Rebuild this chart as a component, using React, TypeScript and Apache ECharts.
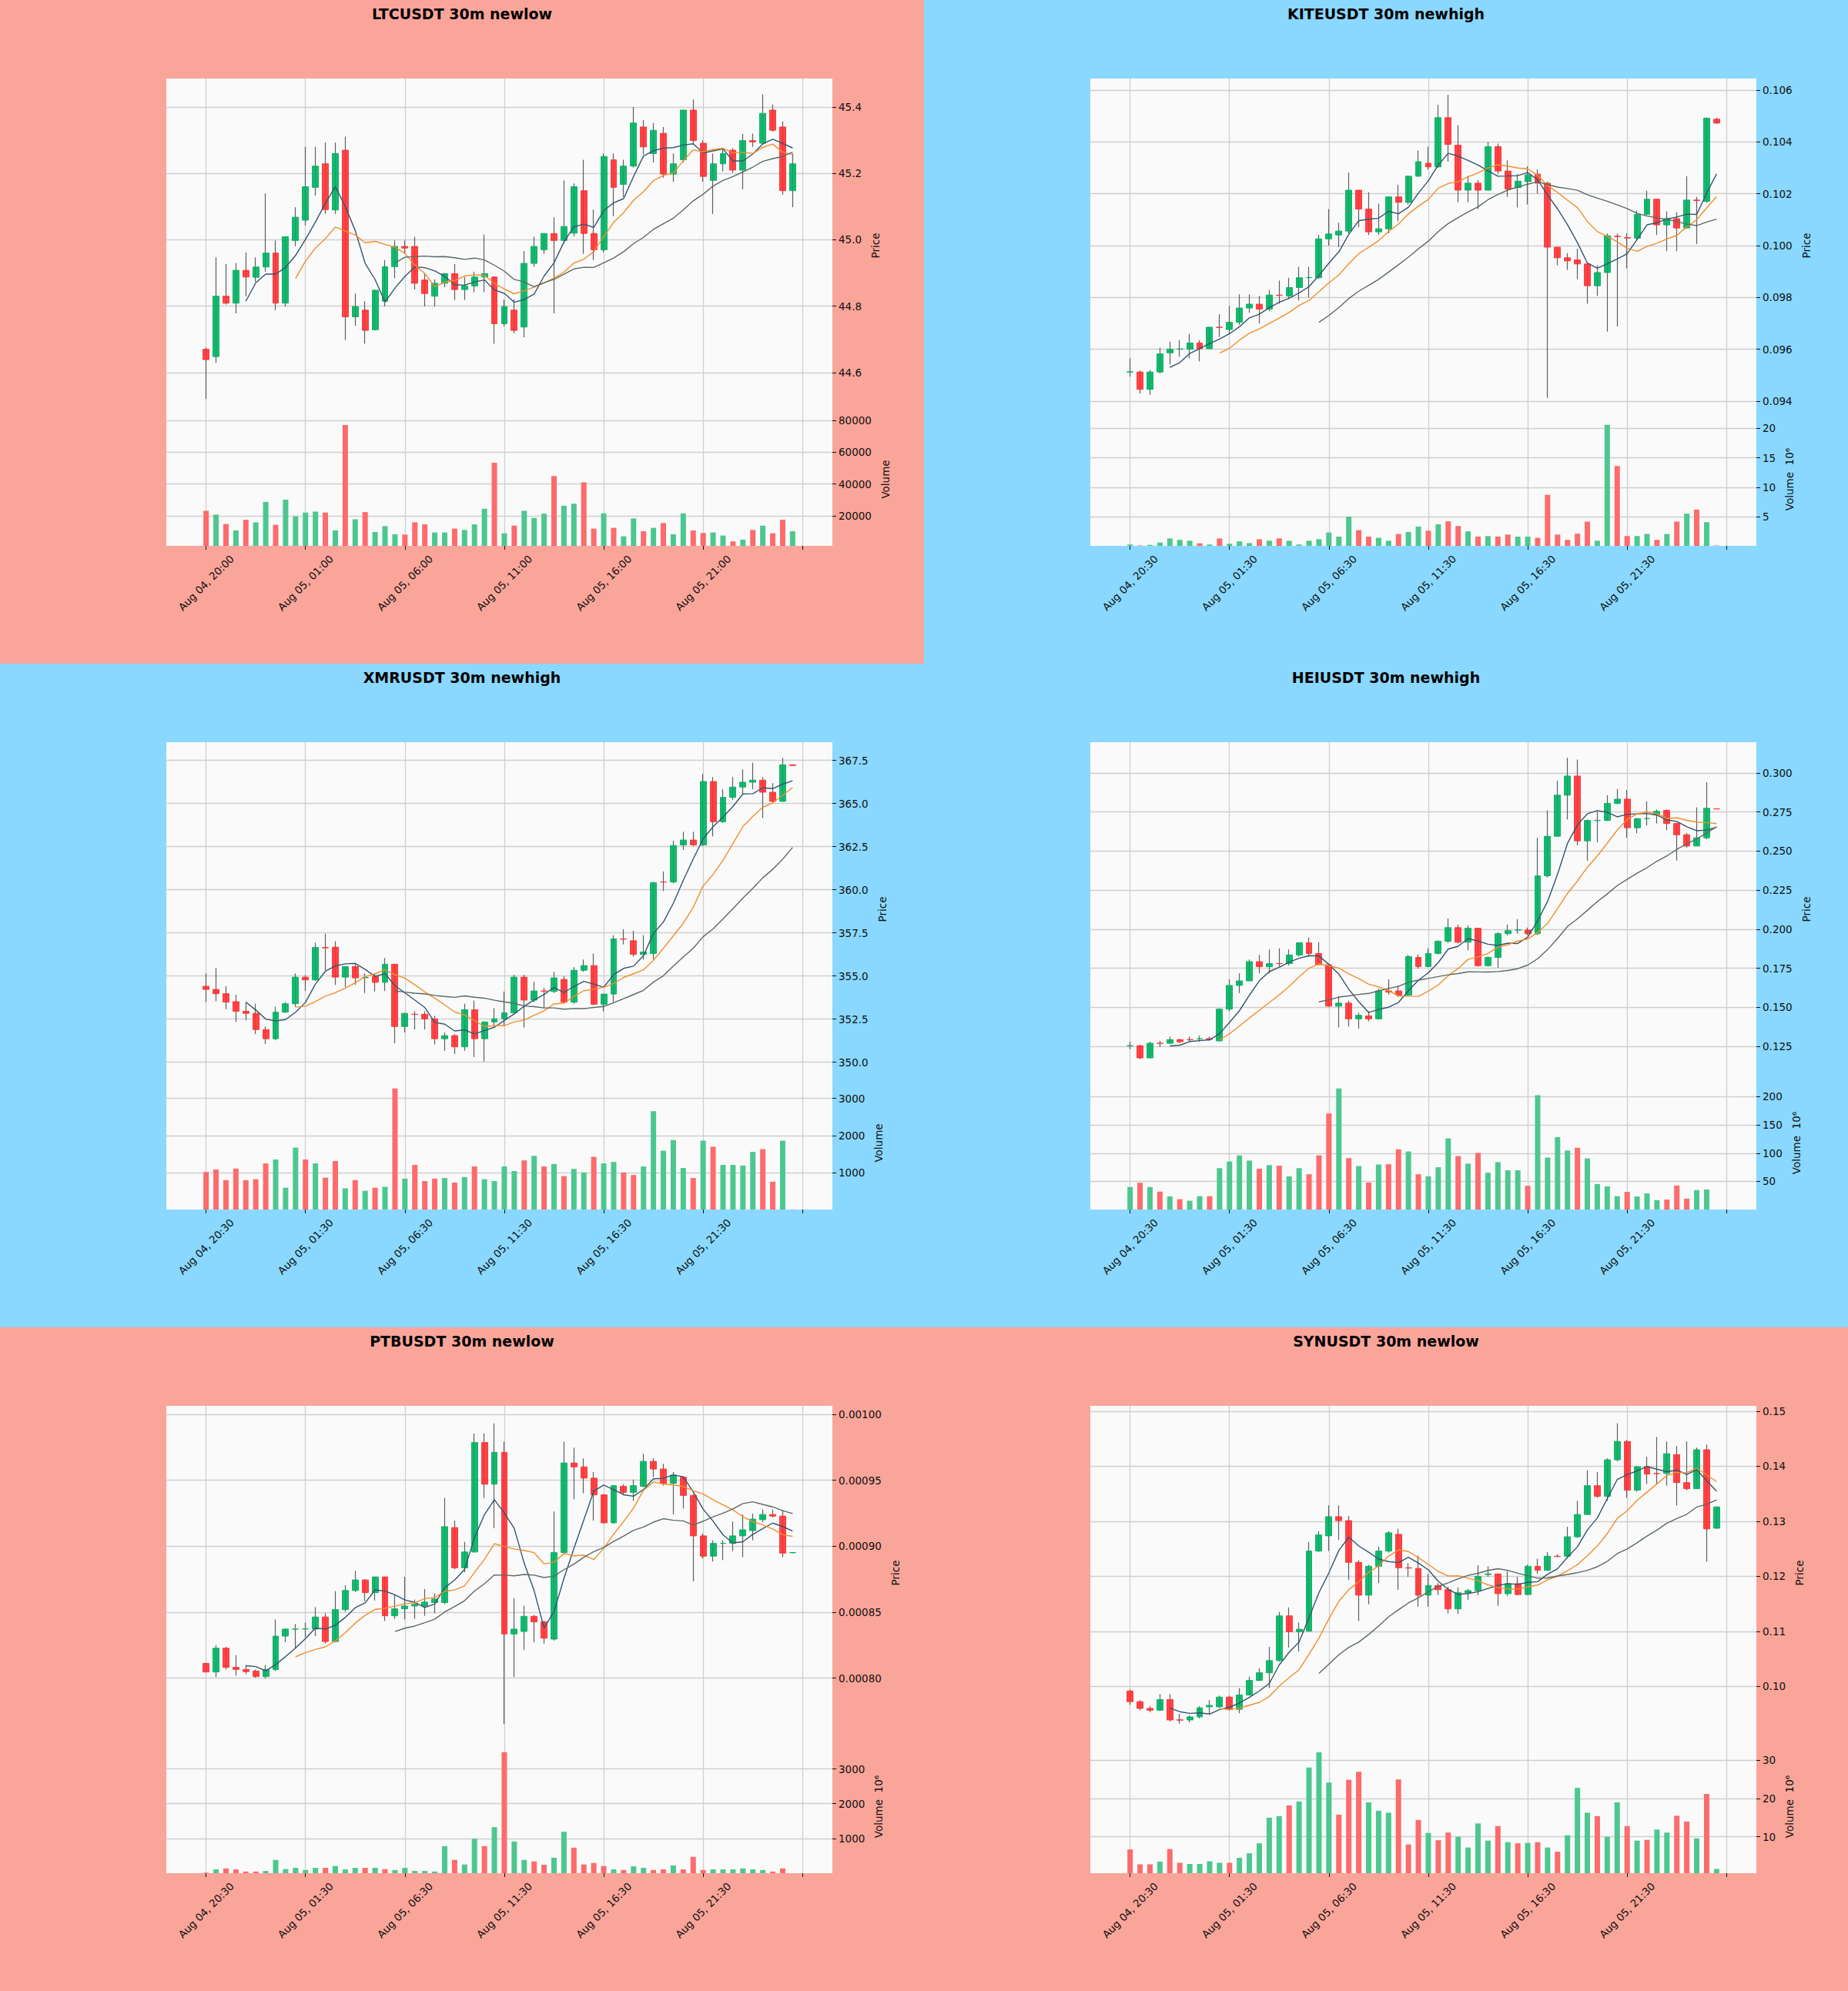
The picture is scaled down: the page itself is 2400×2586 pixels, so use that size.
import React, { useEffect, useRef } from 'react';
import * as echarts from 'echarts';

// ---------- colours ----------
const BG_LOW = '#f9a59a';
const BG_HIGH = '#8ad8ff';
const UP = '#00b060';
const DOWN = '#fe3032';
const VOL_UP = '#4dc790';
const VOL_DOWN = '#fd6b6c';
const WICK = '#606060';
const MA_COLORS = ['#34546e', '#f28e2b', '#5a6a62'];
const MA_WINDOWS = [5, 10, 20];

// ---------- tick labels ----------
const X_LABELS_00 = ['Aug 04, 20:00', 'Aug 05, 01:00', 'Aug 05, 06:00', 'Aug 05, 11:00', 'Aug 05, 16:00', 'Aug 05, 21:00'];
const X_LABELS_30 = ['Aug 04, 20:30', 'Aug 05, 01:30', 'Aug 05, 06:30', 'Aug 05, 11:30', 'Aug 05, 16:30', 'Aug 05, 21:30'];

// ---------- LTCUSDT : [open, high, low, close] ----------
const LTC_OHLC = [
  [44.670, 44.675, 44.520, 44.639], [44.648, 44.947, 44.629, 44.830], [44.830, 44.927, 44.805, 44.809], [44.809, 44.930, 44.778, 44.908],
  [44.908, 44.962, 44.830, 44.888], [44.887, 44.947, 44.873, 44.918], [44.918, 45.140, 44.904, 44.960], [44.960, 44.998, 44.788, 44.809],
  [44.809, 45.010, 44.799, 45.009], [44.998, 45.098, 44.981, 45.068], [45.059, 45.280, 45.043, 45.160], [45.158, 45.280, 45.133, 45.222],
  [45.229, 45.293, 45.078, 45.091], [45.090, 45.293, 45.078, 45.260], [45.270, 45.311, 44.698, 44.768], [44.768, 44.838, 44.741, 44.799],
  [44.788, 44.815, 44.687, 44.727], [44.729, 44.850, 44.727, 44.848], [44.815, 44.939, 44.799, 44.919], [44.919, 44.998, 44.884, 44.980],
  [44.980, 44.998, 44.960, 44.975], [44.980, 45.009, 44.850, 44.869], [44.879, 44.900, 44.799, 44.838], [44.830, 44.880, 44.799, 44.869],
  [44.869, 44.900, 44.857, 44.898], [44.898, 44.927, 44.819, 44.850], [44.850, 44.888, 44.819, 44.861], [44.861, 44.904, 44.842, 44.888],
  [44.888, 45.016, 44.842, 44.898], [44.888, 44.890, 44.687, 44.747], [44.747, 44.820, 44.740, 44.799], [44.788, 44.820, 44.718, 44.727],
  [44.737, 44.966, 44.706, 44.929], [44.929, 45.009, 44.919, 44.980], [44.970, 45.020, 44.958, 45.019], [45.019, 45.068, 44.778, 44.998],
  [44.998, 45.179, 44.989, 45.040], [45.020, 45.170, 45.010, 45.160], [45.148, 45.241, 44.958, 45.019], [45.019, 45.091, 44.939, 44.970],
  [44.970, 45.260, 44.962, 45.251], [45.241, 45.260, 45.071, 45.158], [45.167, 45.241, 45.129, 45.222], [45.222, 45.400, 45.218, 45.352],
  [45.340, 45.361, 45.257, 45.280], [45.260, 45.352, 45.233, 45.330], [45.321, 45.340, 45.187, 45.198], [45.198, 45.260, 45.175, 45.229],
  [45.241, 45.391, 45.233, 45.391], [45.391, 45.423, 45.291, 45.299], [45.291, 45.299, 45.175, 45.191], [45.179, 45.260, 45.078, 45.229],
  [45.229, 45.276, 45.206, 45.260], [45.270, 45.276, 45.202, 45.210], [45.210, 45.319, 45.152, 45.299], [45.299, 45.320, 45.280, 45.295],
  [45.291, 45.439, 45.288, 45.381], [45.391, 45.408, 45.326, 45.330], [45.340, 45.357, 45.136, 45.148], [45.148, 45.260, 45.098, 45.229],
];
const LTC_VOL = [
  23200, 20800, 14900, 10900, 17600, 16000, 28800, 14400, 30200, 19700,
  22100, 22700, 22100, 10900, 77100, 17900, 22400, 9900, 13600, 8500,
  8300, 16000, 14700, 9600, 9600, 12000, 11200, 14700, 24500, 53400,
  9100, 13900, 23200, 18700, 21400, 45000, 26400, 27700, 41100, 12000,
  21600, 12500, 7200, 18400, 10400, 12500, 15500, 8500, 21600, 10900,
  9300, 9600, 7700, 4000, 5100, 11200, 13900, 9100, 17600, 10400,
];
const LTC_YLIM = [44.479, 45.486];
const LTC_PRICE_TICKS = [44.6, 44.8, 45.0, 45.2, 45.4];
const LTC_VOL_TICKS = [20000, 40000, 60000, 80000];

// ---------- KITEUSDT ----------
const KITE_OHLC = [
  [0.09512, 0.09565, 0.09494, 0.09513], [0.09512, 0.09518, 0.09429, 0.09445], [0.09445, 0.09520, 0.09424, 0.09512], [0.09512, 0.09606, 0.09506, 0.09582],
  [0.09586, 0.09629, 0.09541, 0.09600], [0.09600, 0.09635, 0.09571, 0.09601], [0.09600, 0.09659, 0.09565, 0.09624], [0.09624, 0.09635, 0.09553, 0.09602],
  [0.09602, 0.09686, 0.09600, 0.09685], [0.09685, 0.09735, 0.09647, 0.09684], [0.09676, 0.09767, 0.09659, 0.09704], [0.09704, 0.09812, 0.09694, 0.09759],
  [0.09759, 0.09812, 0.09741, 0.09774], [0.09774, 0.09806, 0.09700, 0.09755], [0.09755, 0.09829, 0.09747, 0.09809], [0.09809, 0.09865, 0.09776, 0.09808],
  [0.09806, 0.09876, 0.09794, 0.09838], [0.09838, 0.09918, 0.09788, 0.09876], [0.09876, 0.09918, 0.09800, 0.09877], [0.09876, 0.10041, 0.09871, 0.10026],
  [0.10026, 0.10141, 0.10000, 0.10045], [0.10041, 0.10088, 0.09994, 0.10056], [0.10056, 0.10282, 0.10047, 0.10214], [0.10214, 0.10215, 0.10071, 0.10141],
  [0.10141, 0.10206, 0.10041, 0.10053], [0.10053, 0.10162, 0.10041, 0.10065], [0.10065, 0.10189, 0.10047, 0.10188], [0.10188, 0.10235, 0.10094, 0.10167],
  [0.10167, 0.10270, 0.10159, 0.10268], [0.10268, 0.10367, 0.10266, 0.10324], [0.10318, 0.10382, 0.10294, 0.10304], [0.10304, 0.10544, 0.10300, 0.10494],
  [0.10494, 0.10582, 0.10324, 0.10391], [0.10388, 0.10465, 0.10167, 0.10214], [0.10214, 0.10270, 0.10167, 0.10241], [0.10241, 0.10253, 0.10141, 0.10214],
  [0.10214, 0.10400, 0.10213, 0.10382], [0.10382, 0.10394, 0.10276, 0.10288], [0.10288, 0.10329, 0.10188, 0.10218], [0.10224, 0.10276, 0.10147, 0.10249],
  [0.10247, 0.10306, 0.10159, 0.10273], [0.10276, 0.10294, 0.10200, 0.10241], [0.10241, 0.10247, 0.09412, 0.09994], [0.09994, 0.09995, 0.09924, 0.09953],
  [0.09953, 0.09971, 0.09906, 0.09941], [0.09945, 0.09988, 0.09871, 0.09929], [0.09929, 0.09935, 0.09776, 0.09845], [0.09845, 0.09924, 0.09806, 0.09896],
  [0.09896, 0.10047, 0.09668, 0.10038], [0.10036, 0.10047, 0.09688, 0.10035], [0.10031, 0.10047, 0.09912, 0.10029], [0.10029, 0.10135, 0.10024, 0.10120],
  [0.10120, 0.10212, 0.10118, 0.10179], [0.10179, 0.10180, 0.10041, 0.10080], [0.10080, 0.10132, 0.09979, 0.10104], [0.10104, 0.10129, 0.09979, 0.10068],
  [0.10068, 0.10268, 0.10065, 0.10176], [0.10176, 0.10188, 0.10006, 0.10174], [0.10171, 0.10494, 0.10165, 0.10492], [0.10488, 0.10494, 0.10471, 0.10473],
];
const KITE_VOL = [
  0.26, 0.1, 0.2, 0.6, 1.3, 1.05, 0.9, 0.47, 0.26, 1.3,
  0.4, 0.8, 0.5, 1.15, 0.9, 1.3, 0.9, 0.26, 0.9, 1.15,
  2.3, 1.6, 5.0, 2.7, 1.6, 1.4, 0.9, 2.05, 2.4, 3.3,
  2.6, 3.7, 4.2, 3.4, 2.5, 1.6, 1.7, 1.6, 1.95, 1.6,
  1.6, 1.4, 8.7, 1.95, 1.05, 2.1, 4.15, 0.9, 20.6, 13.6,
  1.7, 1.7, 2.05, 1.05, 2.05, 4.15, 5.5, 6.2, 4.05, 0.1,
];
const KITE_YLIM = [0.09355, 0.10645];
const KITE_PRICE_TICKS = [0.094, 0.096, 0.098, 0.100, 0.102, 0.104, 0.106];
const KITE_VOL_TICKS = [5, 10, 15, 20];

// ---------- XMRUSDT ----------
const XMR_OHLC = [
  [354.40, 355.15, 353.48, 354.22], [354.22, 355.47, 353.53, 353.97], [353.97, 354.41, 353.07, 353.48], [353.51, 353.92, 352.33, 352.95],
  [352.95, 353.48, 352.42, 352.83], [352.83, 353.39, 351.63, 351.89], [351.89, 352.07, 351.06, 351.36], [351.36, 353.21, 351.27, 352.90],
  [352.90, 353.48, 352.86, 353.39], [353.39, 355.15, 353.21, 354.93], [354.93, 355.05, 354.13, 354.77], [354.77, 356.92, 354.71, 356.65],
  [356.65, 357.45, 355.33, 356.63], [356.67, 357.01, 354.48, 354.93], [354.93, 355.56, 354.36, 355.54], [355.54, 355.68, 354.48, 354.89],
  [354.90, 355.15, 354.01, 354.91], [354.98, 355.15, 354.10, 354.63], [354.63, 356.04, 354.13, 355.68], [355.68, 355.70, 351.10, 352.07],
  [352.07, 352.86, 351.72, 352.83], [352.78, 352.95, 351.89, 352.77], [352.78, 352.95, 351.89, 352.51], [352.51, 352.69, 351.03, 351.36],
  [351.36, 351.72, 350.66, 351.54], [351.54, 351.63, 350.48, 350.89], [350.89, 353.39, 350.66, 353.04], [353.04, 353.57, 350.30, 351.36],
  [351.36, 352.37, 350.04, 352.33], [352.33, 353.13, 352.07, 352.51], [352.51, 354.10, 352.07, 352.86], [352.86, 355.07, 352.83, 354.93],
  [354.93, 355.07, 352.01, 353.60], [353.60, 354.66, 353.48, 354.13], [354.13, 354.31, 353.13, 354.12], [354.10, 355.24, 354.01, 354.89],
  [354.80, 354.98, 353.43, 353.48], [353.48, 355.51, 353.39, 355.33], [355.33, 355.95, 355.24, 355.60], [355.60, 356.30, 353.30, 353.36],
  [353.36, 353.96, 352.95, 353.95], [353.95, 357.36, 353.48, 357.15], [357.15, 357.71, 356.83, 357.13], [357.04, 357.62, 356.12, 356.25],
  [356.25, 357.36, 355.95, 356.39], [356.30, 360.45, 355.95, 360.41], [360.45, 361.06, 359.92, 360.44], [360.45, 362.83, 360.36, 362.56],
  [362.59, 363.36, 362.30, 362.88], [362.88, 363.36, 362.53, 362.60], [362.60, 366.71, 362.53, 366.27], [366.27, 366.53, 363.09, 363.94],
  [363.94, 365.82, 363.88, 365.35], [365.35, 366.53, 365.21, 365.95], [365.95, 366.97, 365.56, 366.23], [366.23, 367.36, 365.82, 366.35],
  [366.35, 366.53, 364.15, 365.65], [365.65, 366.18, 365.03, 365.12], [365.12, 367.64, 365.10, 367.24], [367.24, 367.25, 367.18, 367.20],
];
const XMR_VOL = [
  1016, 1082, 795, 1107, 795, 820, 1246, 1352, 590, 1672,
  1352, 1246, 861, 1311, 574, 795, 508, 590, 615, 3270,
  836, 1205, 770, 836, 852, 730, 877, 1164, 820, 770,
  1164, 1041, 1328, 1451, 1164, 1230, 902, 1098, 1000, 1426,
  1246, 1287, 1000, 934, 1164, 2656, 1590, 1877, 1123, 852,
  1861, 1697, 1205, 1205, 1189, 1557, 1631, 754, 1861, 5,
];
const XMR_YLIM = [349.18, 368.55];
const XMR_PRICE_TICKS = [350.0, 352.5, 355.0, 357.5, 360.0, 362.5, 365.0, 367.5];
const XMR_VOL_TICKS = [1000, 2000, 3000];

// ---------- HEIUSDT ----------
const HEI_OHLC = [
  [0.12535, 0.12794, 0.12307, 0.12541], [0.12541, 0.12600, 0.11683, 0.11761], [0.11761, 0.12794, 0.11722, 0.12697], [0.12697, 0.12853, 0.12463, 0.12690],
  [0.12697, 0.13126, 0.12658, 0.12931], [0.12931, 0.12990, 0.12697, 0.12794], [0.12931, 0.13126, 0.12794, 0.12930], [0.12970, 0.13185, 0.12794, 0.12990],
  [0.12990, 0.13126, 0.12853, 0.12950], [0.12853, 0.14938, 0.12794, 0.14879], [0.14879, 0.16789, 0.14743, 0.16399], [0.16399, 0.17178, 0.15912, 0.16691],
  [0.16691, 0.18055, 0.16691, 0.17919], [0.17919, 0.18348, 0.17178, 0.17607], [0.17607, 0.18698, 0.17178, 0.17802], [0.17802, 0.18776, 0.17607, 0.17795],
  [0.17802, 0.18698, 0.17665, 0.18348], [0.18348, 0.19130, 0.18250, 0.19127], [0.19127, 0.19478, 0.18250, 0.18445], [0.18445, 0.19166, 0.17720, 0.17724],
  [0.17724, 0.17763, 0.15035, 0.15074], [0.15074, 0.15717, 0.13710, 0.15269], [0.15269, 0.15425, 0.13768, 0.14256], [0.14256, 0.14646, 0.13632, 0.14489],
  [0.14450, 0.14743, 0.14100, 0.14256], [0.14256, 0.16204, 0.14250, 0.16048], [0.16048, 0.16789, 0.15815, 0.15970], [0.16048, 0.16399, 0.15659, 0.15776],
  [0.15776, 0.18348, 0.15717, 0.18250], [0.18191, 0.18387, 0.17471, 0.17607], [0.17607, 0.18776, 0.17568, 0.18445], [0.18445, 0.19283, 0.18387, 0.19224],
  [0.19224, 0.20686, 0.19127, 0.20101], [0.20101, 0.20296, 0.19088, 0.19166], [0.19166, 0.20257, 0.18640, 0.20062], [0.20062, 0.20062, 0.17607, 0.17666],
  [0.17666, 0.18250, 0.17607, 0.18192], [0.18192, 0.19809, 0.17530, 0.19712], [0.19712, 0.20296, 0.19614, 0.19906], [0.19945, 0.20647, 0.19712, 0.19946],
  [0.19945, 0.20101, 0.19614, 0.19712], [0.19712, 0.25850, 0.19614, 0.23414], [0.23414, 0.27603, 0.23316, 0.25947], [0.25947, 0.29493, 0.25947, 0.28578],
  [0.28578, 0.30974, 0.27019, 0.29805], [0.29805, 0.30857, 0.25362, 0.25655], [0.25655, 0.27019, 0.24388, 0.26960], [0.26960, 0.27506, 0.25557, 0.26961],
  [0.26960, 0.28578, 0.26921, 0.28051], [0.28051, 0.28967, 0.27993, 0.28324], [0.28324, 0.28909, 0.25850, 0.26493], [0.26493, 0.27116, 0.26142, 0.27077],
  [0.27077, 0.28188, 0.26629, 0.27078], [0.27350, 0.27662, 0.26765, 0.27545], [0.27603, 0.27662, 0.26337, 0.26765], [0.26765, 0.26824, 0.24388, 0.26045],
  [0.26045, 0.26142, 0.25207, 0.25323], [0.25323, 0.27798, 0.25320, 0.25850], [0.25850, 0.29415, 0.25752, 0.27740], [0.27701, 0.27720, 0.27680, 0.27699],
];
const HEI_VOL = [
  39.9, 47.5, 39.9, 31.8, 23.2, 18.3, 15.6, 23.7, 23.7, 73.4,
  85.2, 96.0, 86.8, 72.3, 78.8, 77.7, 58.8, 73.4, 62.6, 96.0,
  170.4, 214.7, 91.2, 77.1, 48.0, 79.8, 80.4, 106.8, 103.0, 62.6,
  58.8, 75.0, 126.2, 94.9, 81.4, 100.3, 65.3, 84.1, 69.6, 69.6,
  42.1, 202.8, 92.2, 128.4, 104.6, 109.5, 90.6, 45.3, 41.0, 23.7,
  31.3, 23.2, 28.6, 16.7, 17.8, 42.6, 19.4, 34.5, 35.6, 0.1,
];
const HEI_YLIM = [0.1058, 0.3197];
const HEI_PRICE_TICKS = [0.125, 0.150, 0.175, 0.200, 0.225, 0.250, 0.275, 0.300];
const HEI_VOL_TICKS = [50, 100, 150, 200];

// ---------- PTBUSDT ----------
const PTB_OHLC = [
  [0.0008111, 0.0008115, 0.0008042, 0.0008046], [0.0008046, 0.0008249, 0.0008007, 0.0008226], [0.0008226, 0.0008237, 0.0008065, 0.0008081], [0.0008081, 0.0008173, 0.0008018, 0.0008065],
  [0.0008065, 0.0008099, 0.0008030, 0.0008049], [0.0008053, 0.0008065, 0.0008002, 0.0008012], [0.0008012, 0.0008099, 0.0007996, 0.0008065], [0.0008065, 0.0008445, 0.0008053, 0.0008318],
  [0.0008318, 0.0008376, 0.0008272, 0.0008371], [0.0008371, 0.0008410, 0.0008226, 0.0008372], [0.0008372, 0.0008420, 0.0008310, 0.0008373], [0.0008371, 0.0008537, 0.0008318, 0.0008463],
  [0.0008463, 0.0008491, 0.0008261, 0.0008277], [0.0008277, 0.0008659, 0.0008272, 0.0008519], [0.0008519, 0.0008703, 0.0008502, 0.0008664], [0.0008664, 0.0008813, 0.0008652, 0.0008744],
  [0.0008744, 0.0008749, 0.0008583, 0.0008648], [0.0008648, 0.0008768, 0.0008588, 0.0008767], [0.0008767, 0.0008768, 0.0008433, 0.0008472], [0.0008472, 0.0008634, 0.0008449, 0.0008525],
  [0.0008525, 0.0008767, 0.0008445, 0.0008546], [0.0008546, 0.0008595, 0.0008449, 0.0008558], [0.0008546, 0.0008675, 0.0008472, 0.0008576], [0.0008572, 0.0008641, 0.0008491, 0.0008599],
  [0.0008572, 0.0009366, 0.0008560, 0.0009148], [0.0009141, 0.0009194, 0.0008825, 0.0008836], [0.0008836, 0.0009032, 0.0008802, 0.0008956], [0.0008956, 0.0009855, 0.0008952, 0.0009786],
  [0.0009786, 0.0009855, 0.0009366, 0.0009470], [0.0009470, 0.0009931, 0.0009136, 0.0009712], [0.0009712, 0.0009793, 0.0007650, 0.0008334], [0.0008334, 0.0008606, 0.0008007, 0.0008371],
  [0.0008353, 0.0008548, 0.0008214, 0.0008468], [0.0008468, 0.0008479, 0.0008272, 0.0008426], [0.0008426, 0.0008433, 0.0008261, 0.0008302], [0.0008295, 0.0009263, 0.0008284, 0.0008952],
  [0.0008952, 0.0009793, 0.0008940, 0.0009631], [0.0009631, 0.0009747, 0.0009355, 0.0009601], [0.0009601, 0.0009666, 0.0009401, 0.0009516], [0.0009516, 0.0009562, 0.0009194, 0.0009389],
  [0.0009389, 0.0009394, 0.0009171, 0.0009177], [0.0009177, 0.0009460, 0.0009171, 0.0009459], [0.0009454, 0.0009470, 0.0009389, 0.0009408], [0.0009408, 0.0009505, 0.0009343, 0.0009459],
  [0.0009454, 0.0009700, 0.0009447, 0.0009643], [0.0009643, 0.0009666, 0.0009523, 0.0009585], [0.0009585, 0.0009624, 0.0009459, 0.0009477], [0.0009477, 0.0009562, 0.0009240, 0.0009539],
  [0.0009523, 0.0009532, 0.0009286, 0.0009385], [0.0009385, 0.0009394, 0.0008733, 0.0009078], [0.0009078, 0.0009095, 0.0008906, 0.0008924], [0.0008924, 0.0009044, 0.0008883, 0.0009021],
  [0.0009021, 0.0009044, 0.0008894, 0.0009022], [0.0009021, 0.0009187, 0.0008963, 0.0009078], [0.0009078, 0.0009240, 0.0008917, 0.0009124], [0.0009118, 0.0009247, 0.0009044, 0.0009205],
  [0.0009201, 0.0009279, 0.0009182, 0.0009240], [0.0009240, 0.0009279, 0.0009217, 0.0009228], [0.0009228, 0.0009274, 0.0008917, 0.0008947], [0.0008950, 0.0008955, 0.0008945, 0.0008952],
];
const PTB_VOL = [
  15, 110, 137, 110, 48, 48, 66, 383, 119, 154,
  93, 154, 154, 207, 110, 154, 154, 154, 119, 93,
  154, 66, 66, 48, 780, 383, 251, 991, 780, 1326,
  3485, 912, 383, 339, 242, 445, 1194, 736, 251, 295,
  207, 110, 93, 198, 154, 93, 110, 225, 110, 471,
  93, 110, 110, 110, 137, 110, 93, 48, 137, 1,
];
const PTB_YLIM = [0.000753, 0.0010064];
const PTB_PRICE_TICKS = [0.0008, 0.00085, 0.0009, 0.00095, 0.001];
const PTB_VOL_TICKS = [1000, 2000, 3000];

// ---------- SYNUSDT ----------
const SYN_OHLC = [
  [0.09917, 0.09945, 0.09669, 0.09724], [0.09724, 0.09751, 0.09569, 0.09602], [0.09602, 0.09641, 0.09530, 0.09569], [0.09569, 0.09862, 0.09558, 0.09762],
  [0.09762, 0.09862, 0.09365, 0.09392], [0.09395, 0.09503, 0.09326, 0.09388], [0.09392, 0.09475, 0.09348, 0.09448], [0.09448, 0.09641, 0.09420, 0.09613],
  [0.09630, 0.09751, 0.09503, 0.09657], [0.09630, 0.09834, 0.09613, 0.09807], [0.09807, 0.09834, 0.09558, 0.09586], [0.09586, 0.09972, 0.09514, 0.09845],
  [0.09845, 0.10177, 0.09834, 0.10110], [0.10110, 0.10331, 0.10099, 0.10249], [0.10249, 0.10718, 0.09972, 0.10470], [0.10470, 0.11354, 0.10453, 0.11282],
  [0.11282, 0.11436, 0.10707, 0.10994], [0.10994, 0.11160, 0.10635, 0.11039], [0.11006, 0.12624, 0.10994, 0.12459], [0.12459, 0.12818, 0.12442, 0.12751],
  [0.12735, 0.13287, 0.12459, 0.13083], [0.13083, 0.13287, 0.12663, 0.13011], [0.13011, 0.13094, 0.11934, 0.12254], [0.12254, 0.12293, 0.11188, 0.11657],
  [0.11657, 0.12210, 0.11492, 0.12182], [0.12182, 0.12541, 0.11878, 0.12459], [0.12459, 0.12818, 0.12431, 0.12790], [0.12762, 0.12862, 0.11757, 0.12155],
  [0.12155, 0.12238, 0.11989, 0.12150], [0.12144, 0.12376, 0.11448, 0.11657], [0.11657, 0.12044, 0.11448, 0.11834], [0.11834, 0.11878, 0.11657, 0.11757],
  [0.11757, 0.11812, 0.11326, 0.11409], [0.11409, 0.11796, 0.11315, 0.11702], [0.11702, 0.11768, 0.11575, 0.11740], [0.11740, 0.12199, 0.11657, 0.12000],
  [0.12033, 0.12182, 0.11989, 0.12045], [0.12044, 0.12045, 0.11464, 0.11685], [0.11685, 0.12099, 0.11646, 0.11867], [0.11867, 0.11989, 0.11657, 0.11669],
  [0.11669, 0.12210, 0.11657, 0.12182], [0.12182, 0.12320, 0.12044, 0.12110], [0.12110, 0.12442, 0.12099, 0.12365], [0.12365, 0.12403, 0.12348, 0.12360],
  [0.12365, 0.12901, 0.12348, 0.12718], [0.12718, 0.13370, 0.12696, 0.13122], [0.13122, 0.13923, 0.13122, 0.13646], [0.13646, 0.13895, 0.13425, 0.13453],
  [0.13453, 0.14144, 0.13370, 0.14116], [0.14116, 0.14779, 0.14088, 0.14448], [0.14448, 0.14475, 0.13425, 0.13564], [0.13564, 0.14006, 0.13536, 0.13989],
  [0.13989, 0.14171, 0.13674, 0.13856], [0.13867, 0.14530, 0.13674, 0.13866], [0.13867, 0.14448, 0.13646, 0.14227], [0.14210, 0.14365, 0.13287, 0.13702],
  [0.13702, 0.14448, 0.13564, 0.13591], [0.13591, 0.14337, 0.13589, 0.14298], [0.14298, 0.14392, 0.12265, 0.12862], [0.12873, 0.13270, 0.12862, 0.13260],
];
const SYN_VOL = [
  6.7, 2.8, 2.8, 3.5, 6.8, 3.2, 2.9, 2.9, 3.6, 3.2,
  3.2, 4.5, 5.7, 8.3, 15.0, 15.4, 18.2, 19.2, 28.1, 32.1,
  24.2, 15.8, 24.9, 27.0, 19.0, 16.8, 16.3, 25.0, 8.0, 14.4,
  11.0, 9.1, 11.1, 10.0, 7.2, 13.5, 9.0, 12.8, 8.6, 8.3,
  8.4, 8.6, 7.2, 6.1, 10.4, 22.8, 16.3, 15.4, 10.0, 19.0,
  12.8, 9.0, 9.2, 11.9, 11.1, 15.5, 14.0, 9.6, 21.2, 1.6,
];
const SYN_YLIM = [0.09028, 0.15095];
const SYN_PRICE_TICKS = [0.10, 0.11, 0.12, 0.13, 0.14, 0.15];
const SYN_VOL_TICKS = [10, 20, 30];

// ---------- panel definitions ----------
type Panel = {
  title: string; bg: string; ohlc: number[][]; vol: number[]; ylim: number[];
  priceTicks: number[]; priceDec: number; volTicks: number[]; volName: string;
  xLabels: string[]; priceGap: number; volGap: number;
};

const PANELS: Panel[] = [
  { title: 'LTCUSDT 30m newlow', bg: BG_LOW, ohlc: LTC_OHLC, vol: LTC_VOL, ylim: LTC_YLIM, priceTicks: LTC_PRICE_TICKS, priceDec: 1, volTicks: LTC_VOL_TICKS, volName: 'Volume', xLabels: X_LABELS_00, priceGap: 39, volGap: 49 },
  { title: 'KITEUSDT 30m newhigh', bg: BG_HIGH, ohlc: KITE_OHLC, vol: KITE_VOL, ylim: KITE_YLIM, priceTicks: KITE_PRICE_TICKS, priceDec: 3, volTicks: KITE_VOL_TICKS, volName: 'Volume  10⁶', xLabels: X_LABELS_30, priceGap: 46, volGap: 27 },
  { title: 'XMRUSDT 30m newhigh', bg: BG_HIGH, ohlc: XMR_OHLC, vol: XMR_VOL, ylim: XMR_YLIM, priceTicks: XMR_PRICE_TICKS, priceDec: 1, volTicks: XMR_VOL_TICKS, volName: 'Volume', xLabels: X_LABELS_30, priceGap: 46, volGap: 40 },
  { title: 'HEIUSDT 30m newhigh', bg: BG_HIGH, ohlc: HEI_OHLC, vol: HEI_VOL, ylim: HEI_YLIM, priceTicks: HEI_PRICE_TICKS, priceDec: 3, volTicks: HEI_VOL_TICKS, volName: 'Volume  10⁶', xLabels: X_LABELS_30, priceGap: 46, volGap: 33 },
  { title: 'PTBUSDT 30m newlow', bg: BG_LOW, ohlc: PTB_OHLC, vol: PTB_VOL, ylim: PTB_YLIM, priceTicks: PTB_PRICE_TICKS, priceDec: 5, volTicks: PTB_VOL_TICKS, volName: 'Volume  10⁶', xLabels: X_LABELS_30, priceGap: 64, volGap: 43 },
  { title: 'SYNUSDT 30m newlow', bg: BG_LOW, ohlc: SYN_OHLC, vol: SYN_VOL, ylim: SYN_YLIM, priceTicks: SYN_PRICE_TICKS, priceDec: 2, volTicks: SYN_VOL_TICKS, volName: 'Volume  10⁶', xLabels: X_LABELS_30, priceGap: 38, volGap: 27 },
];

// ---------- layout ----------
const CELL_W = 1200;
const CELL_H = 862;
const FONT = 'DejaVu Sans';
const PAD = 4;
const GRID_LEFT = 216;
const GRID_W = 865;
const PRICE_TOP = 102;
const PRICE_H = 434;
const VOL_H = 173;
const TXT = '#101010';

function buildOption(c: Panel): any {
  const n = c.ohlc.length;
  const cats = Array.from({ length: n + 2 * PAD }, (_, k) => String(k));
  const isGridIdx = (idx: number) => idx >= PAD && (idx - PAD) % 10 === 0;
  const isLabelIdx = (idx: number) => isGridIdx(idx) && (idx - PAD) / 10 < c.xLabels.length;

  const wick = c.ohlc.map((d, i) => [i + PAD, d[0], d[3], d[2], d[1]]);
  const body = c.ohlc.map((d, i) => [i + PAD, d[0], d[3], Math.min(d[0], d[3]), Math.max(d[0], d[3])]);
  const closes = c.ohlc.map((d) => d[3]);
  const ma = (w: number) => {
    const out: number[][] = [];
    for (let i = w - 1; i < n; i++) {
      let s = 0;
      for (let k = i - w + 1; k <= i; k++) s += closes[k];
      out.push([i + PAD, s / w]);
    }
    return out;
  };
  const vol = c.vol.map((v, i) => {
    const up = i === 0 ? closes[0] >= c.ohlc[0][0] : closes[i] >= closes[i - 1];
    return { value: [i + PAD, v], itemStyle: { color: up ? VOL_UP : VOL_DOWN } };
  });
  const vMin = 0.3 * Math.min(...c.vol);
  const vMax = 1.1 * Math.max(...c.vol);

  const axisText = { color: TXT, fontFamily: FONT, fontSize: 13.5 };
  const vSplit = { show: true, interval: (idx: number) => isGridIdx(idx), lineStyle: { color: '#d0d0d0', width: 1.3 } };
  const hSplit = { show: true, lineStyle: { color: '#d0d0d0', width: 1.3 } };

  const baseX = {
    type: 'category', data: cats, boundaryGap: false,
    axisLine: { show: false }, axisPointer: { show: false },
    splitLine: vSplit,
  };

  return {
    animation: false,
    backgroundColor: c.bg,
    title: {
      text: c.title, left: 'center', top: 8, padding: 0,
      textStyle: { fontFamily: FONT, fontSize: 19, fontWeight: 'bold', color: '#000' },
    },
    grid: [
      { left: GRID_LEFT, top: PRICE_TOP, width: GRID_W, height: PRICE_H, show: true, backgroundColor: '#fafafa', borderWidth: 0, containLabel: false, outerBoundsMode: 'none' },
      { left: GRID_LEFT, top: PRICE_TOP + PRICE_H, width: GRID_W, height: VOL_H, show: true, backgroundColor: '#fafafa', borderWidth: 0, containLabel: false, outerBoundsMode: 'none' },
    ],
    xAxis: [
      { ...baseX, gridIndex: 0, axisTick: { show: false }, axisLabel: { show: false } },
      {
        ...baseX, gridIndex: 1,
        axisTick: { show: true, interval: (idx: number) => isGridIdx(idx), length: 5, lineStyle: { color: TXT, width: 1 } },
        axisLabel: {
          show: true, interval: (idx: number) => isLabelIdx(idx),
          formatter: (v: string) => c.xLabels[(Number(v) - PAD) / 10] ?? '',
          rotate: 45, align: 'center', verticalAlign: 'middle', margin: 48, ...axisText,
        },
      },
    ],
    yAxis: [
      {
        type: 'value', gridIndex: 0, position: 'right', min: c.ylim[0], max: c.ylim[1],
        axisLine: { show: false },
        axisTick: { show: true, length: 5, customValues: c.priceTicks, lineStyle: { color: TXT, width: 1 } },
        axisLabel: { show: true, customValues: c.priceTicks, margin: 8, formatter: (v: number) => v.toFixed(c.priceDec), ...axisText },
        splitLine: hSplit,
        name: 'Price', nameLocation: 'middle', nameRotate: 90, nameGap: c.priceGap,
        nameTextStyle: { ...axisText },
      },
      {
        type: 'value', gridIndex: 1, position: 'right', min: vMin, max: vMax,
        axisLine: { show: false },
        axisTick: { show: true, length: 5, customValues: c.volTicks, lineStyle: { color: TXT, width: 1 } },
        axisLabel: { show: true, customValues: c.volTicks, margin: 8, formatter: (v: number) => String(v), ...axisText },
        splitLine: hSplit,
        name: c.volName, nameLocation: 'middle', nameRotate: 90, nameGap: c.volGap,
        nameTextStyle: { ...axisText },
      },
    ],
    series: [
      {
        type: 'candlestick', name: 'wick', xAxisIndex: 0, yAxisIndex: 0,
        encode: { x: 0, y: [1, 2, 3, 4] }, data: wick, barWidth: 1,
        itemStyle: { color: WICK, color0: WICK, borderColor: WICK, borderColor0: WICK, borderWidth: 1.2 },
        emphasis: { disabled: true }, z: 2,
      },
      {
        type: 'candlestick', name: 'body', xAxisIndex: 0, yAxisIndex: 0,
        encode: { x: 0, y: [1, 2, 3, 4] }, data: body, barWidth: 8.4,
        itemStyle: { color: UP, color0: DOWN, borderColor: UP, borderColor0: DOWN, borderWidth: 1, opacity: 0.9 },
        emphasis: { disabled: true }, z: 3,
      },
      ...MA_WINDOWS.map((w, k) => ({
        type: 'line', name: 'MA' + w, xAxisIndex: 0, yAxisIndex: 0, data: ma(w),
        showSymbol: false, symbol: 'none', smooth: false,
        lineStyle: { color: MA_COLORS[k], width: 1.4 }, emphasis: { disabled: true }, z: 4,
      })),
      {
        type: 'bar', name: 'volume', xAxisIndex: 1, yAxisIndex: 1, data: vol, barWidth: 7,
        emphasis: { disabled: true }, z: 2,
      },
    ],
  };
}

function ChartCell({ cfg, left, top }: { cfg: Panel; left: number; top: number }) {
  const ref = useRef<HTMLDivElement>(null);
  useEffect(() => {
    if (!ref.current) return;
    const chart = echarts.init(ref.current, null, { renderer: 'svg' });
    chart.setOption(buildOption(cfg));
    return () => chart.dispose();
  }, [cfg]);
  return <div ref={ref} style={{ position: 'absolute', left, top, width: CELL_W, height: CELL_H }} />;
}

export default function App() {
  return (
    <div style={{ position: 'absolute', left: 0, top: 0, width: CELL_W * 2, height: CELL_H * 3, overflow: 'hidden' }}>
      {PANELS.map((p, i) => (
        <ChartCell key={p.title} cfg={p} left={(i % 2) * CELL_W} top={Math.floor(i / 2) * CELL_H} />
      ))}
    </div>
  );
}
